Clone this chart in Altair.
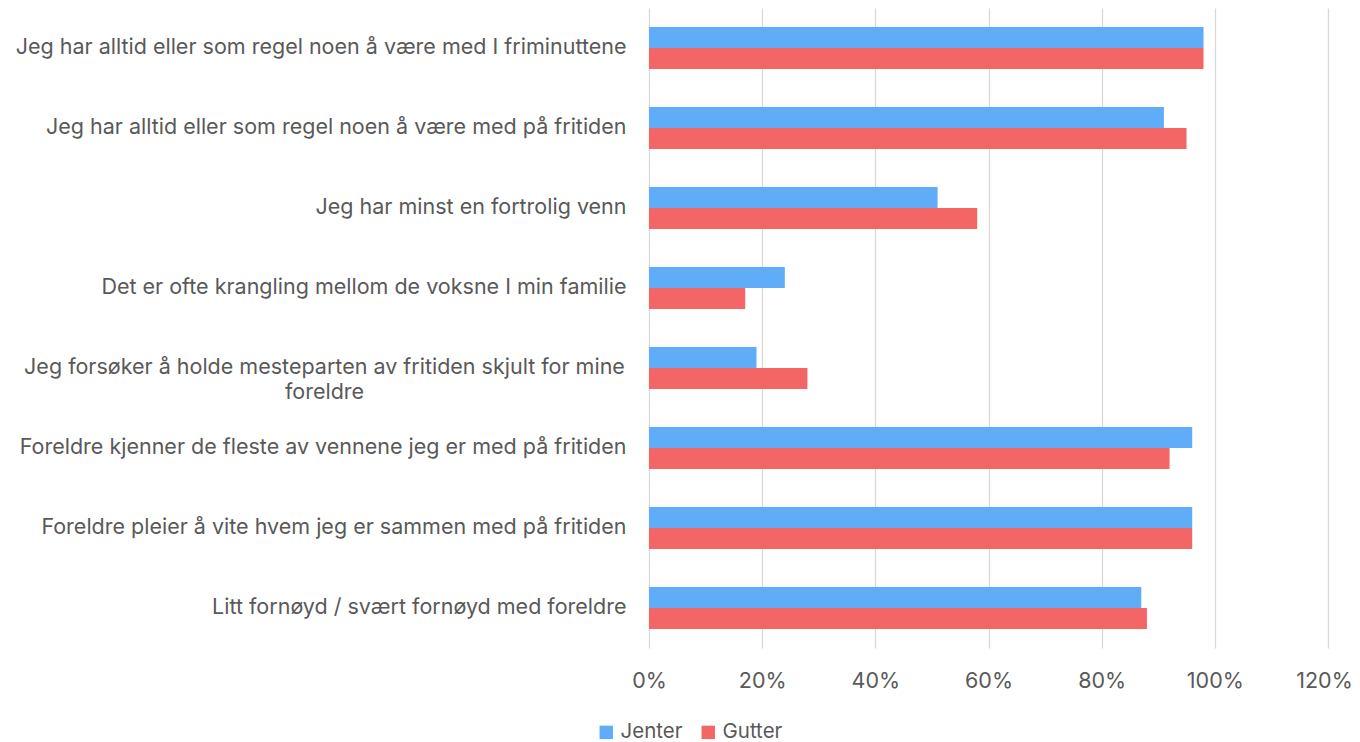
import altair as alt
import pandas as pd

categories = [
    "Jeg har alltid eller som regel noen å være med I friminuttene\u00a0",
    "Jeg har alltid eller som regel noen å være med på fritiden",
    "Jeg har minst en fortrolig venn\u00a0",
    "Det er ofte krangling mellom de voksne I min familie",
    "Jeg forsøker å holde mesteparten av fritiden skjult for mine|foreldre",
    "Foreldre kjenner de fleste av vennene jeg er med på fritiden",
    "Foreldre pleier å vite hvem jeg er sammen med på fritiden",
    "Litt fornøyd / svært fornøyd med foreldre",
]
jenter = [98, 91, 51, 24, 19, 96, 96, 87]
gutter = [98, 95, 58, 17, 28, 92, 96, 88]
series = ["Jenter", "Gutter"]
colors = ["#5FADF8", "#F46666"]
x_ticks = [0, 0.2, 0.4, 0.6, 0.8, 1.0, 1.2]

rows = []
for c, j, g in zip(categories, jenter, gutter):
    rows.append({"category": c, "series": "Jenter", "value": j / 100})
    rows.append({"category": c, "series": "Gutter", "value": g / 100})
df = pd.DataFrame(rows)

FONT = "Inter"
FS = 21.5
TXT = "#595959"
multi = "indexof(datum.value, '|') >= 0"

chart = (
    alt.Chart(df)
    .mark_bar()
    .encode(
        x=alt.X(
            "value:Q",
            scale=alt.Scale(domain=[0, 1.2], nice=False),
            axis=alt.Axis(
                values=x_ticks,
                format=".0%",
                title=None,
                grid=True,
                gridColor="#D9D9D9",
                gridWidth=1.3,
                domain=False,
                ticks=False,
                labelFlush=False,
                labelFont=FONT,
                labelFontSize=FS,
                labelColor=TXT,
                labelPadding=22,
                labelOffset={"condition": {"test": "datum.value >= 1.19", "value": -4}, "value": 0},
            ),
        ),
        y=alt.Y(
            "category:N",
            sort=categories,
            scale=alt.Scale(paddingInner=0.475, paddingOuter=0.2375),
            axis=alt.Axis(
                title=None,
                domain=False,
                ticks=False,
                labelExpr="split(datum.value, '|')",
                labelFont=FONT,
                labelFontSize=FS,
                labelColor=TXT,
                labelLimit=1000,
                labelLineHeight=25,
                labelAlign={"condition": {"test": multi, "value": "center"}, "value": "right"},
                labelPadding={"condition": {"test": multi, "value": 325}, "value": 23},
            ),
        ),
        yOffset=alt.YOffset("series:N", sort=series, scale=alt.Scale(paddingInner=0)),
        color=alt.Color(
            "series:N",
            sort=series,
            scale=alt.Scale(domain=series, range=colors),
            legend=alt.Legend(
                title=None,
                orient="none",
                direction="horizontal",
                legendX=-53,
                legendY=714,
                symbolType="square",
                symbolSize=180,
                symbolStrokeWidth=0,
                labelFont=FONT,
                labelFontSize=20.5,
                labelColor=TXT,
                columnPadding=15,
                labelOffset=4,
            ),
        ),
    )
    .properties(
        width=679,
        height=640,
        autosize=alt.AutoSizeParams(type="none"),
        padding={"left": 641, "top": 0, "right": 24, "bottom": 100},
    )
    .configure_view(stroke=None)
)

chart.save("out.html", embed_options={"renderer": "svg", "actions": False})
